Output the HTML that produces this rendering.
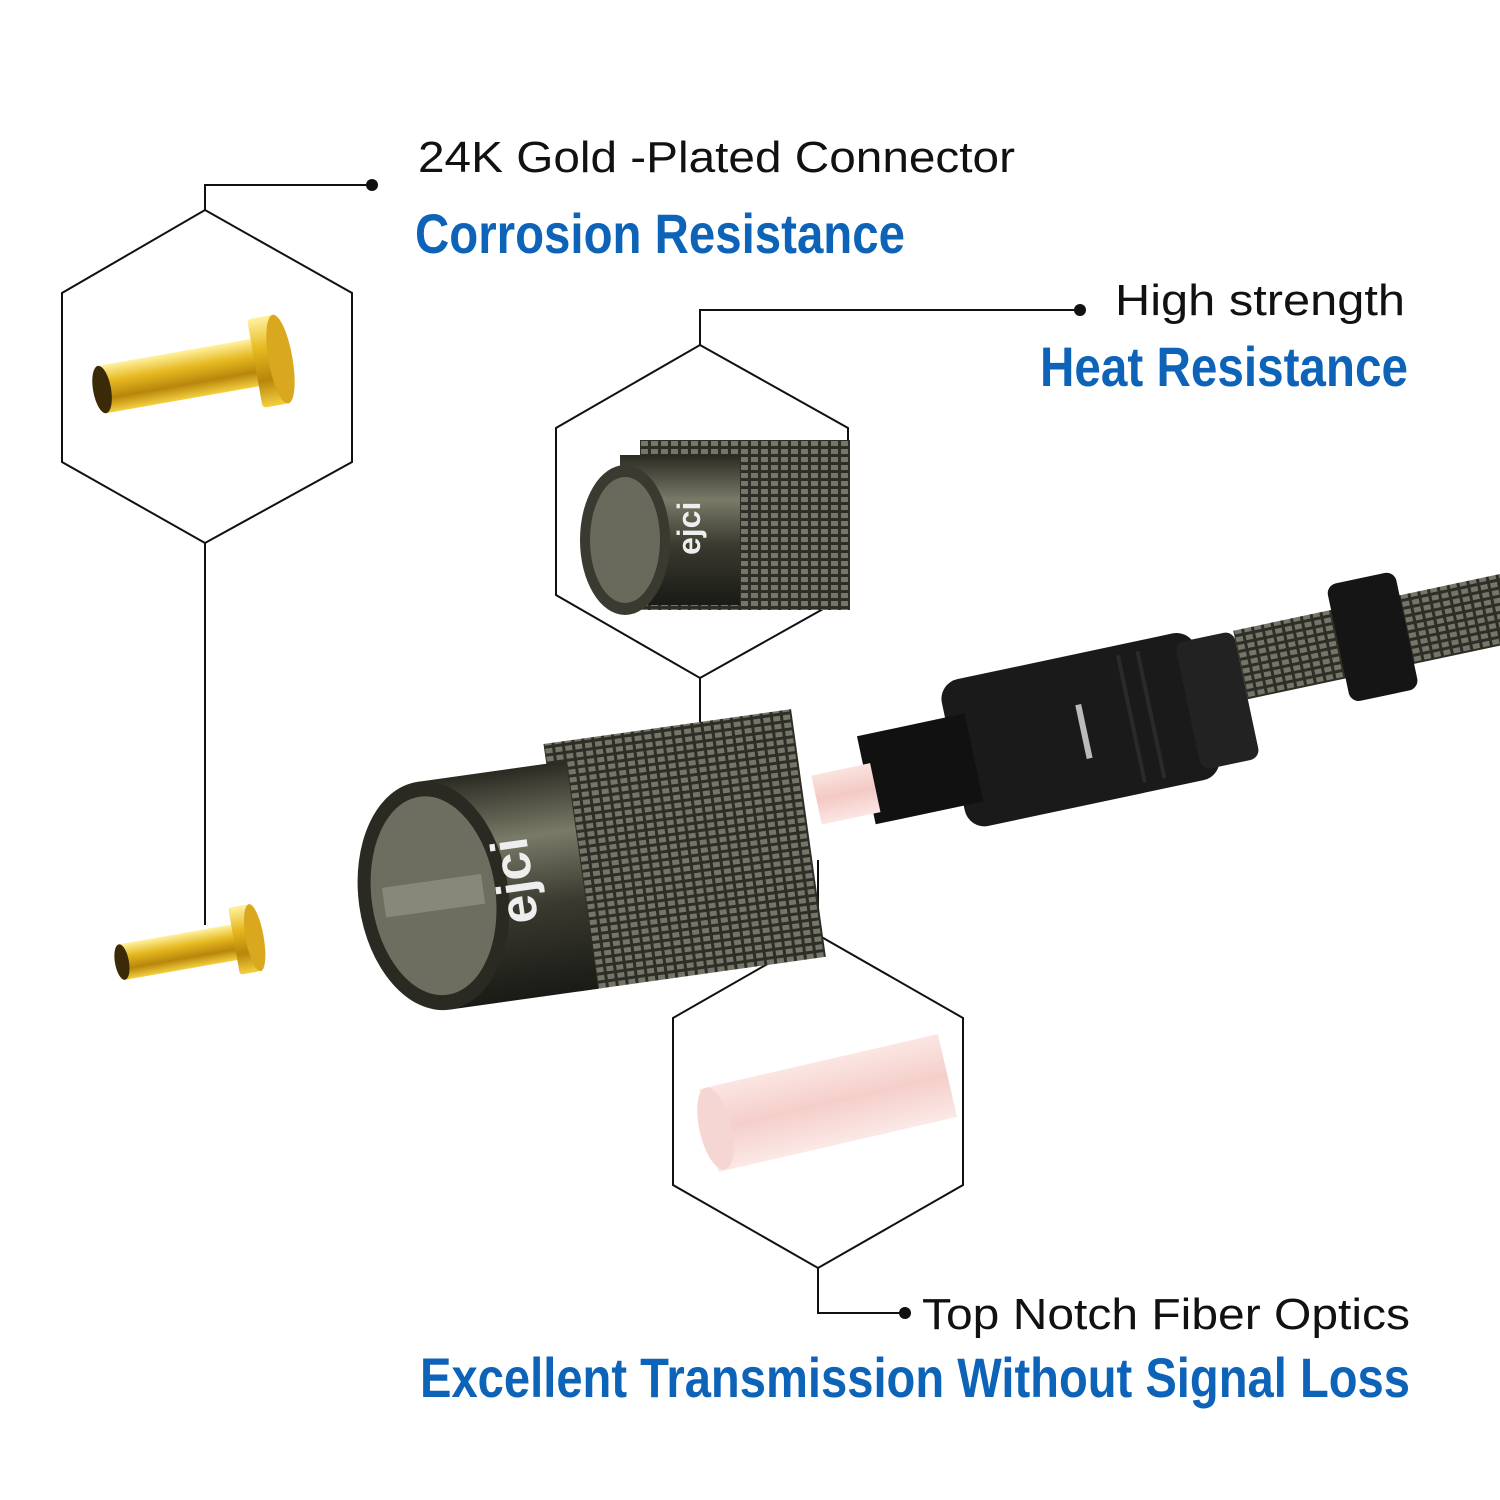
<!DOCTYPE html>
<html><head><meta charset="utf-8"><style>
html,body{margin:0;padding:0;background:#fff;width:1500px;height:1500px;overflow:hidden}
svg{display:block}
.t{font-family:"Liberation Sans",sans-serif;font-size:44px;fill:#111}
.b{font-family:"Liberation Sans Narrow","Liberation Sans",sans-serif;font-weight:bold;fill:#0d63b8;font-size:56px}
</style></head><body>
<svg width="1500" height="1500" viewBox="0 0 1500 1500">
<defs>
<linearGradient id="gold" x1="0" y1="0" x2="0" y2="1">
<stop offset="0" stop-color="#fff2a0"/><stop offset=".35" stop-color="#e6b820"/><stop offset=".7" stop-color="#b8860b"/><stop offset="1" stop-color="#f5d040"/></linearGradient>
<linearGradient id="dark" x1="0" y1="0" x2="0" y2="1">
<stop offset="0" stop-color="#2a2a22"/><stop offset=".3" stop-color="#7a7a68"/><stop offset=".6" stop-color="#3a3a30"/><stop offset="1" stop-color="#1a1a16"/></linearGradient>
<pattern id="knurl" width="10" height="8" patternUnits="userSpaceOnUse">
<rect width="10" height="8" fill="#2e2e26"/><rect x="1" y="1" width="7" height="5" fill="#75756a"/></pattern>
<linearGradient id="pink" x1="0" y1="0" x2="0" y2="1">
<stop offset="0" stop-color="#fbe3df"/><stop offset=".5" stop-color="#f3c9c4"/><stop offset="1" stop-color="#fbe6e3"/></linearGradient>
</defs>
<g fill="none" stroke="#111" stroke-width="2">
<polygon points="205,210 352,293 352,462 205,543 62,462 62,293"/>
<polyline points="205,210 205,185 372,185"/>
<line x1="205" y1="543" x2="205" y2="925"/>
<polygon points="700,345 848,428 848,595 700,678 556,595 556,428"/>
<polyline points="700,345 700,310 1080,310"/>
<line x1="700" y1="678" x2="700" y2="728"/>
<polygon points="818,935 963,1018 963,1185 818,1268 673,1185 673,1018"/>
<polyline points="818,1268 818,1313 905,1313"/>
<line x1="818" y1="935" x2="818" y2="860"/>
</g>
<circle cx="372" cy="185" r="6" fill="#111"/>
<circle cx="1080" cy="310" r="6" fill="#111"/>
<circle cx="905" cy="1313" r="6" fill="#111"/>

<text class="t" x="418" y="172" textLength="597" lengthAdjust="spacingAndGlyphs">24K Gold -Plated Connector</text>
<text class="b" x="415" y="253" textLength="490" lengthAdjust="spacingAndGlyphs">Corrosion Resistance</text>
<text class="t" x="1115" y="315" textLength="290" lengthAdjust="spacingAndGlyphs">High strength</text>
<text class="b" x="1040" y="386" textLength="368" lengthAdjust="spacingAndGlyphs">Heat Resistance</text>
<text class="t" x="922" y="1329" textLength="488" lengthAdjust="spacingAndGlyphs">Top Notch Fiber Optics</text>
<text class="b" x="420" y="1397" textLength="990" lengthAdjust="spacingAndGlyphs">Excellent Transmission Without Signal Loss</text>

<g transform="rotate(-10 190 370)">
<rect x="100" y="350" width="160" height="48" fill="url(#gold)"/>
<ellipse cx="100" cy="374" rx="9" ry="24" fill="#3a2a08"/>
<rect x="255" y="330" width="26" height="90" rx="4" fill="url(#gold)"/>
<ellipse cx="281" cy="375" rx="12" ry="45" fill="#d9a81e"/>
</g>
<g transform="rotate(-10 190 945)">
<rect x="118" y="932" width="120" height="36" fill="url(#gold)"/>
<ellipse cx="120" cy="950" rx="7" ry="18" fill="#3a2a08"/>
<rect x="234" y="915" width="20" height="68" rx="3" fill="url(#gold)"/>
<ellipse cx="255" cy="949" rx="9" ry="34" fill="#d9a81e"/>
</g>

<g transform="rotate(-12 1150 720)">
<rect x="1250" y="650" width="280" height="70" fill="url(#knurl)"/>
<rect x="1350" y="625" width="70" height="120" rx="10" fill="#151515"/>
<rect x="950" y="640" width="260" height="150" rx="20" fill="#1a1a1a"/>
<rect x="1190" y="650" width="60" height="130" rx="10" fill="#222"/>
<rect x="860" y="675" width="110" height="90" fill="#111"/>
<rect x="1080" y="690" width="6" height="55" fill="#bbb"/>
<rect x="1130" y="650" width="4" height="130" fill="#2a2a2a"/>
<rect x="1150" y="650" width="4" height="130" fill="#2a2a2a"/>
</g>
<g>
<rect x="640" y="440" width="210" height="170" fill="url(#knurl)"/>
<rect x="620" y="455" width="120" height="150" fill="url(#dark)"/>
<ellipse cx="625" cy="540" rx="45" ry="75" fill="#3a3a30"/>
<ellipse cx="625" cy="540" rx="35" ry="63" fill="#6a6a5c"/>
<text x="670" y="555" fill="#eee" font-family="Liberation Sans" font-weight="bold" font-size="32" transform="rotate(-90 685 540)">ejci</text>
</g>
<g transform="rotate(-8 580 860)">
<rect x="560" y="740" width="250" height="250" fill="url(#knurl)"/>
<rect x="430" y="760" width="150" height="230" fill="url(#dark)"/>
<ellipse cx="430" cy="875" rx="75" ry="115" fill="#2a2a22"/>
<ellipse cx="430" cy="875" rx="62" ry="100" fill="#6e6e60"/>
<rect x="380" y="860" width="100" height="30" fill="#9a9a8a" opacity=".6"/>
<text x="470" y="895" fill="#eee" font-family="Liberation Sans" font-weight="bold" font-size="52" transform="rotate(-90 510 875)">ejci</text>
</g>
<rect x="815" y="770" width="60" height="50" fill="url(#pink)" transform="rotate(-12 840 790)"/>
<g transform="rotate(-13 830 1100)">
<rect x="705" y="1060" width="245" height="85" fill="url(#pink)" opacity=".9"/>
<ellipse cx="712" cy="1102" rx="16" ry="42" fill="#f6d6d2"/>
</g>
</svg>
</body></html>
